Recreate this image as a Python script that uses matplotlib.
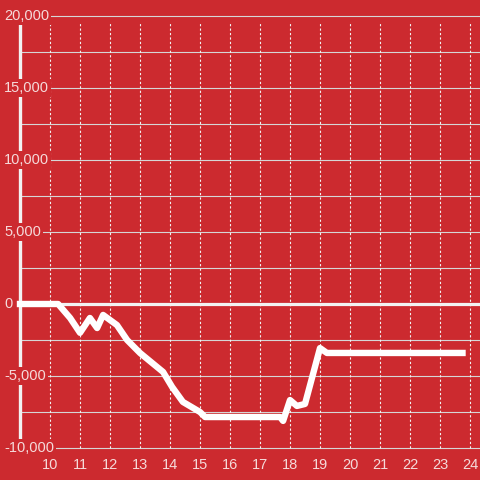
import matplotlib
matplotlib.use("Agg")
import matplotlib.pyplot as plt

# hour of day vs. running value
hours = [9.0, 10.27, 10.67, 11.0, 11.33, 11.57, 11.77, 12.23, 12.57, 13.0, 13.77,
         14.07, 14.43, 15.0, 15.17, 17.67, 17.77, 18.0, 18.23, 18.5, 19.0, 19.23, 23.75]
values = [0, 0, -970, -2000, -970, -1670, -760, -1460, -2500, -3400, -4720,
          -5760, -6800, -7500, -7850, -7850, -8120, -6670, -7080, -6940, -3060, -3400, -3400]

x_ticks = list(range(10, 25))
y_ticks = [-10000, -5000, 0, 5000, 10000, 15000, 20000]
y_grid = list(range(-10000, 20001, 2500))

bg = '#cc2a2f'
plt.rcParams['font.family'] = ['Liberation Sans', 'DejaVu Sans']

fig = plt.figure(figsize=(4.8, 4.8), dpi=100)
fig.patch.set_facecolor(bg)
ax = fig.add_axes([0, 0, 1, 1])
ax.set_facecolor(bg)
ax.axis('off')
ax.set_xlim(8.333, 24.333)
ax.set_ylim(-12222, 21111)

# grid
ax.hlines(y_grid, 9.0, 24.333, color='#d6d6d6', lw=0.8, zorder=1)
ax.vlines(x_ticks, -10000, 19600, color='#f2f2f2', lw=0.8,
          linestyles=(0, (2, 2)), zorder=1)

# left spine and zero line
ax.vlines(9.0, -10000, 20000, color='#f2f2f2', lw=2.4, zorder=2)
ax.hlines(0, 9.0, 24.333, color='#f2f2f2', lw=2.3, zorder=2)

# tick labels (left aligned, background hides the lines behind them)
for v in y_ticks:
    ax.text(8.47, v, f'{v:,}', ha='left', va='center', fontsize=10.5,
            color='#f5dada', zorder=3,
            bbox=dict(facecolor=bg, edgecolor='none', pad=1.5))
for h in x_ticks:
    ax.text(h, -11150, str(h), ha='center', va='center', fontsize=10.5,
            color='#f5dada', zorder=3)

ax.plot(hours, values, color='white', lw=4.6, solid_capstyle='projecting',
        solid_joinstyle='round', zorder=4)

fig.savefig('out.png', dpi=100, facecolor=bg)
